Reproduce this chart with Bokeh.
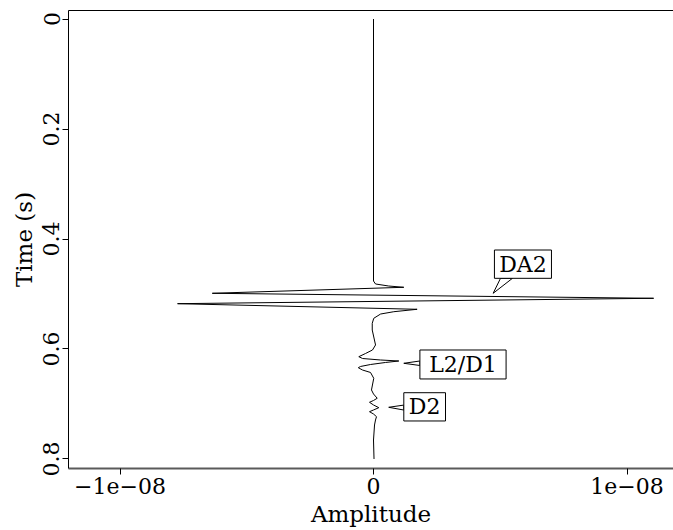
from bokeh.plotting import figure
from bokeh.models import Range1d, FixedTicker, LinearAxis
from bokeh.core.properties import value
from bokeh.embed import file_html
from bokeh.resources import INLINE

# ---- data ----
time_s = [0.0, 0.460, 0.4764, 0.4818, 0.4855, 0.4878, 0.4987, 0.5078, 0.5176,
          0.5278, 0.5322, 0.5364, 0.5442, 0.5533, 0.5655, 0.5927,
          0.6018, 0.6082, 0.6140, 0.6173, 0.6200, 0.6218, 0.6245, 0.6282,
          0.6318, 0.6340, 0.6382, 0.6427, 0.6533,
          0.6745, 0.6818, 0.6896, 0.6936, 0.6969, 0.7018, 0.7067, 0.7109,
          0.7140, 0.7182, 0.7231, 0.7291, 0.7382, 0.7655, 0.8000]
amp_e8 = [0.0, 0.0, 0.0, 0.008, 0.060, 0.1195, -0.636, 1.105, -0.773,
          0.172, 0.080, 0.028, 0.001, -0.005, -0.005, 0.008,
          -0.004, -0.0316, -0.058, -0.043, 0.0276, 0.0998, 0.0473, -0.0118,
          -0.0513, -0.060, -0.0434, -0.0118, 0.001,
          -0.008, 0.0, 0.0146, 0.0, -0.0158, 0.0, 0.0209, 0.0,
          -0.0158, 0.0, 0.0118, 0.0079, 0.004, 0.0, 0.002]
amplitude = [a * 1e-8 for a in amp_e8]

x_ticks = [-1e-8, 0.0, 1e-8]
x_tick_labels = ["\u22121e\u221208", "0", "1e\u221208"]
y_ticks = [0.0, 0.2, 0.4, 0.6, 0.8]
y_tick_labels = ["0", "0.2", "0.4", "0.6", "0.8"]

callout_texts = ["DA2", "L2/D1", "D2"]

FONT = "DejaVu Serif"

p = figure(width=673, height=530,
           x_range=Range1d(-1.2032e-8, 1.1834e-8),
           y_range=Range1d(0.8173, -0.0155),
           output_backend="svg", toolbar_location=None,
           min_border_left=68, min_border_right=0,
           min_border_top=10, min_border_bottom=62,
           x_axis_label="Amplitude", y_axis_label="Time (s)")
p.grid.visible = False
p.outline_line_color = None
p.background_fill_color = "white"
p.border_fill_color = "white"

# trace
p.line(amplitude, time_s, line_color="black", line_width=1.0)

# callouts (box corners in amplitude [e-8] / time units)
boxes = [
    (callout_texts[0], 0.477, 0.702, 0.420, 0.4715,
     [(0.472, 0.4987), (0.501, 0.4715), (0.548, 0.4715)]),
    (callout_texts[1], 0.183, 0.523, 0.6018, 0.6545,
     [(0.1195, 0.626), (0.183, 0.6218), (0.183, 0.630)]),
    (callout_texts[2], 0.1195, 0.284, 0.6795, 0.7309,
     [(0.060, 0.706), (0.1195, 0.702), (0.1195, 0.711)]),
]
for txt, x0, x1, t0, t1, ptr in boxes:
    p.patch([q[0] * 1e-8 for q in ptr], [q[1] for q in ptr],
            fill_color="white", line_color="black", line_width=1)
    p.quad(left=[x0 * 1e-8], right=[x1 * 1e-8], top=[t0], bottom=[t1],
           fill_color="white", line_color="black", line_width=1)
    p.text(x=[(x0 + x1) / 2 * 1e-8], y=[(t0 + t1) / 2], text=[txt],
           text_font=value(FONT), text_font_size="22px",
           text_align="center", text_baseline="middle", text_color="black")

# axes
xa = p.xaxis[0]
xa.ticker = FixedTicker(ticks=x_ticks)
xa.major_label_overrides = {t: l for t, l in zip(x_ticks, x_tick_labels)}
ya = p.yaxis[0]
ya.ticker = FixedTicker(ticks=y_ticks)
ya.major_label_overrides = {t: l for t, l in zip(y_ticks, y_tick_labels)}
ya.major_label_orientation = "vertical"

for ax in (xa, ya):
    ax.major_label_text_font = FONT
    ax.major_label_text_font_size = "22px"
    ax.major_label_text_color = "black"
    ax.axis_label_text_font = FONT
    ax.axis_label_text_font_size = "23px"
    ax.axis_label_text_font_style = "normal"
    ax.axis_label_text_color = "black"
    ax.major_tick_in = 0
    ax.major_tick_out = 6
    ax.minor_tick_in = 0
    ax.minor_tick_out = 0
    ax.major_tick_line_color = "black"
    ax.major_label_standoff = 3
    ax.axis_label_standoff = 4

xa.axis_line_color = "#5a5a5a"
xa.axis_line_width = 2
ya.axis_line_color = "black"

top = LinearAxis(ticker=FixedTicker(ticks=[]), major_tick_in=0, major_tick_out=0,
                 minor_tick_in=0, minor_tick_out=0, axis_line_color="black",
                 major_label_text_font_size="0px")
p.add_layout(top, "above")

open("out.html", "w").write(file_html(p, INLINE))
